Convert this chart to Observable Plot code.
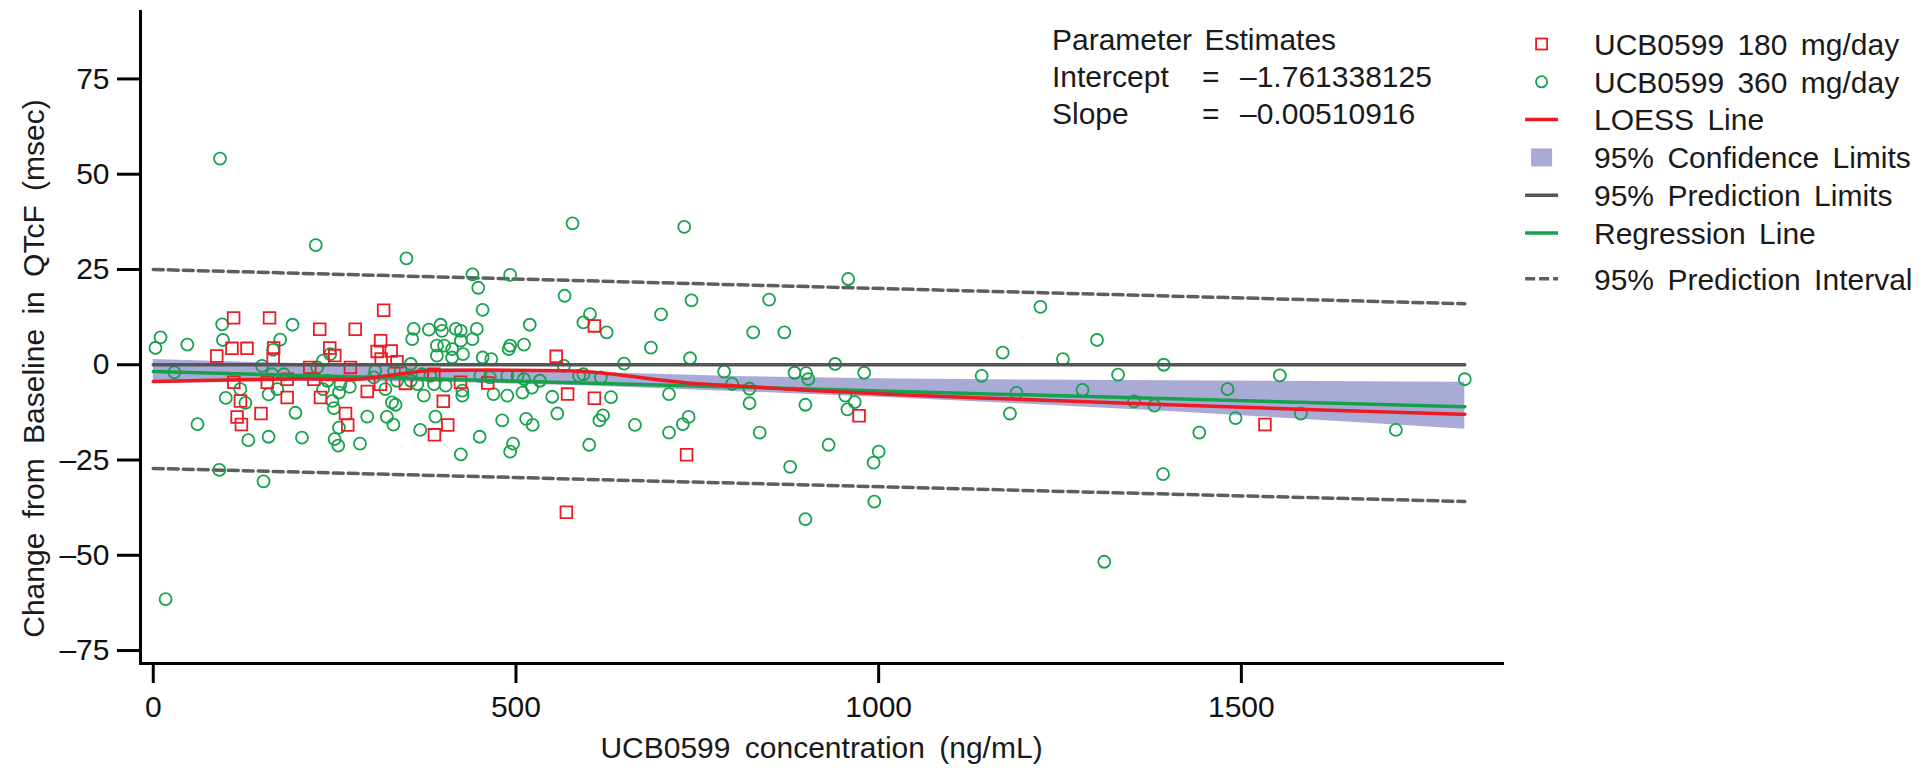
<!DOCTYPE html>
<html>
<head>
<meta charset="utf-8">
<script src="https://cdn.jsdelivr.net/npm/d3@7"></script>
<script src="https://cdn.jsdelivr.net/npm/@observablehq/plot@0.6"></script>
<style>
  html, body { margin: 0; padding: 0; background: #fff; }
  #wrap { position: relative; width: 1923px; height: 768px; overflow: hidden;
          font-family: "Liberation Sans", Arial, sans-serif; color: #1a1a1a; }
  #chart { position: absolute; left: 0; top: 0; }
  #params { position: absolute; left: 1052px; top: 21px; font-size: 30px; line-height: 37px; word-spacing: 4px; }
  #params .row { display: flex; white-space: nowrap; }
  #params .k { width: 150px; }
  #params .eq { width: 38px; }
  #legend { position: absolute; left: 1510px; top: 0; }
</style>
</head>
<body>
<div id="wrap">
  <div id="chart"></div>
  <div id="params"></div>
  <svg id="legend" width="413" height="320"></svg>
</div>
<script>
// ---------------- data ----------------
const dose180Conc = [87.5,108.5,110.8,129.2,160.3,166,165.3,229.5,278.4,317.6,313.5,308.7,328,314.2,336,243.3,250.2,271.8,215.7,111,157.2,184.6,221.3,184.6,120.2,230.5,265,115.6,148.5,121.5,268.1,295,313.2,386.7,347.7,423.5,461.1,399.8,571.2,608.1,608.1,555.5,406,387.6,569.5,735.2,973,1532.5];
const dose180Change = [2.3,4.3,12.3,4.3,12.3,4.4,1.5,9.3,9.3,14.3,6.3,3.5,3.6,1.5,0.8,4.4,2.4,-0.7,-0.7,-4.6,-4.6,-3.8,-3.8,-8.6,-9.5,-8.6,-12.8,-13.7,-12.8,-15.7,-15.8,-7.0,-5.1,-2.5,-4.9,-4.6,-4.8,-9.6,-7.7,-8.8,10.2,2.2,-15.8,-18.4,-38.7,-23.6,-13.4,-15.7];

const dose360Conc = [92,224,349,578,732,440,492,448,567,742,454,602,700,593,625,519,192,95,10,47,3,96,175,165,686,740,649,566,29,466,454,958,849,827,870,1223,1301,1171,1254,1393,940,787,884,900,903,980,1142,1330,1553,1808,798,822,711,1190,1281,1481,1352,1380,1181,1492,1582,1442,1713,1392,1311,822,899,954,967,957,738,730,711,836,931,1000,993,878,994,899,664,359,357,380,396,398,417,424,446,440,424,391,401,412,391,412,427,492,511,490,593,355,382,355,364,373,387,403,426,426,469,488,509,522,511,502,488,550,631,587,620,615,557,514,481,389,329,331,368,424,450,523,496,492,601,150,234,244,120,100,127,159,171,196,234,247,256,271,249,295,320,322,306,332,61,164,226,131,159,205,250,255,256,285,91,152,17,341,371,451,464,533,617,240,258,304,336,180,334];
const dose360Change = [54.1,31.4,27.9,37.1,36.2,23.7,23.6,20.2,18.1,16.9,14.4,13.3,13.2,11.1,8.5,10.5,10.5,10.6,7.2,5.3,4.4,6.5,6.6,3.9,4.5,1.7,0.3,-0.3,-2.0,1.5,1.9,22.5,17.1,8.5,8.5,15.2,6.5,3.2,1.5,0.0,0.2,-1.8,-2.1,-2.2,-3.8,-2.1,-2.9,-2.6,-2.8,-3.8,-5.0,-6.3,-7.7,-7.4,-6.6,-6.4,-9.6,-10.7,-12.8,-14.0,-12.8,-17.8,-17.1,-28.7,-51.7,-10.1,-10.5,-8.1,-9.8,-11.7,-13.7,-15.6,-17.8,-17.8,-21.0,-22.8,-25.7,-26.8,-35.9,-40.5,-15.8,9.4,6.7,9.2,10.5,8.9,9.4,8.9,9.4,6.7,6.3,5.0,5.0,4.1,2.4,1.9,2.8,5.0,5.3,4.1,-2.5,0.2,-2.9,-4.2,-5.1,-8.1,-5.1,-5.5,-6.8,-8.1,-7.7,-8.1,-7.3,-6.0,-3.8,-2.9,-2.9,-8.4,-8.5,-2.9,-13.3,-14.6,-12.8,-14.2,-14.6,-13.6,-9.9,-15.7,-17.1,-23.5,-18.9,-15.8,-20.7,-22.8,-21.0,-0.3,1.1,2.8,-6.4,-8.7,-10.0,-7.8,-6.4,-12.6,-6.4,-9.5,-7.3,-5.8,-11.4,-13.6,-6.4,-13.7,-1.6,-1.6,-15.6,-2.5,-0.7,-19.8,-18.9,-19.1,-19.5,-21.2,-16.5,-20.7,-27.6,-30.6,-61.5,-1.6,-2.5,-2.9,-3.3,-4.2,-3.3,-4.2,-5.1,-3.3,-4.2,-2.5,-10.5];

const loessConc = [0,100,200,270,330,380,460,570,625,690,750,800,900,1030,1200,1400,1600,1808];
const loessChange = [-4.4,-4.0,-3.7,-3.9,-2.7,-1.6,-1.4,-1.6,-2.3,-3.8,-5.0,-5.5,-6.7,-7.9,-9.1,-10.5,-11.8,-13.0];

const bandConc = [0,200,400,600,800,1000,1200,1400,1600,1808];
const bandLower = [-4.9,-4.4,-4.6,-5.6,-7.0,-8.5,-10.3,-12.3,-14.5,-16.9];
const bandUpper = [1.4,0.3,-1.0,-2.0,-3.1,-3.7,-4.0,-4.2,-4.4,-4.6];

const regConc = [0,1808];
const regChange = [-1.76,-11.0];

const piConc = [0,1808];
const piUpper = [25.0,16.0];
const piLower = [-27.2,-35.9];

const refConc = [0,1808];
const refChange = [0,0];

const xTicks = [0,500,1000,1500];
const yTicks = [-75,-50,-25,0,25,50,75];

const xTitle = "UCB0599 concentration (ng/mL)";
const yTitle = "Change from Baseline in QTcF (msec)";

const paramTitle = "Parameter Estimates";
const paramNames = ["Intercept","Slope"];
const paramValues = ["–1.761338125","–0.00510916"];

const legendLabels = ["UCB0599 180 mg/day","UCB0599 360 mg/day","LOESS Line","95% Confidence Limits","95% Prediction Limits","Regression Line","95% Prediction Interval"];

// ---------------- styling ----------------
const RED = "#ec1c24";
const GREEN = "#16a24c";
const BAND = "#aaaad6";
const GREY = "#555555";
const DASH = "#5e5e5e";
const FONT = "'Liberation Sans', Arial, sans-serif";

const pts = (xs, ys) => xs.map((x, i) => ({x, y: ys[i]}));
const fmt = d => d < 0 ? "–" + Math.abs(d) : String(d);

const plot = Plot.plot({
  width: 1520,
  height: 768,
  marginTop: 11,
  marginBottom: 105,
  marginLeft: 140,
  marginRight: 18,
  style: {fontFamily: FONT, fontSize: "30px", color: "#111", background: "white", overflow: "visible"},
  x: {domain: [-17.6, 1860], label: null},
  y: {domain: [-78.4, 92.7], label: null},
  marks: [
    Plot.areaY(bandConc.map((x, i) => ({x, lo: bandLower[i], hi: bandUpper[i]})),
      {x: "x", y1: "lo", y2: "hi", fill: BAND}),
    Plot.line(pts(piConc, piUpper), {x: "x", y: "y", stroke: DASH, strokeWidth: 3.5, strokeDasharray: "10,5"}),
    Plot.line(pts(piConc, piLower), {x: "x", y: "y", stroke: DASH, strokeWidth: 3.5, strokeDasharray: "10,5"}),
    Plot.dot(pts(dose360Conc, dose360Change), {x: "x", y: "y", r: 6, stroke: GREEN, strokeWidth: 1.8, fill: "none"}),
    Plot.dot(pts(dose180Conc, dose180Change), {x: "x", y: "y", symbol: "square", r: 6.6, stroke: RED, strokeWidth: 1.8, fill: "none"}),
    Plot.line(pts(refConc, refChange), {x: "x", y: "y", stroke: GREY, strokeWidth: 3.5}),
    Plot.line(pts(regConc, regChange), {x: "x", y: "y", stroke: GREEN, strokeWidth: 3.5}),
    Plot.line(pts(loessConc, loessChange), {x: "x", y: "y", stroke: RED, strokeWidth: 3.5, curve: "monotone-x"}),
    Plot.axisX(xTicks, {anchor: "bottom", tickSize: 20, tickPadding: 12, strokeWidth: 3, stroke: "#000", fontSize: 30, fill: "#111", tickFormat: fmt, label: null}),
    Plot.axisY(yTicks, {anchor: "left", tickSize: 23, tickPadding: 8, strokeWidth: 3, stroke: "#000", fontSize: 30, fill: "#111", tickFormat: fmt, label: null}),
    Plot.frame({anchor: "left", stroke: "#000", strokeWidth: 3}),
    Plot.frame({anchor: "bottom", stroke: "#000", strokeWidth: 3}),
    Plot.text([xTitle], {frameAnchor: "bottom", textAnchor: "middle", lineAnchor: "middle", dy: 85, fontSize: 30, fill: "#1a1a1a", text: d => d}),
    Plot.text([yTitle], {frameAnchor: "left", textAnchor: "middle", lineAnchor: "middle", rotate: -90, dx: -106, dy: 31, fontSize: 30, fill: "#1a1a1a", text: d => d})
  ]
});
plot.querySelectorAll("text").forEach(t => t.style.wordSpacing = "6px");
document.getElementById("chart").appendChild(plot);

// ---------------- parameter estimates block ----------------
const params = d3.select("#params");
params.append("div").attr("class", "row").text(paramTitle);
paramNames.forEach((n, i) => {
  const r = params.append("div").attr("class", "row");
  r.append("span").attr("class", "k").text(n);
  r.append("span").attr("class", "eq").text("=");
  r.append("span").text(paramValues[i]);
});

// ---------------- legend ----------------
const lg = d3.select("#legend");
const symX = 31.6, txtX = 84;
const rowY = i => 44 + i * 37.8 + (i === 6 ? 8 : 0);
legendLabels.forEach((lab, i) => {
  const y = rowY(i);
  const g = lg.append("g");
  if (i === 0) g.append("rect").attr("x", symX - 5.5).attr("y", y - 5.5).attr("width", 11).attr("height", 11).attr("fill", "none").attr("stroke", RED).attr("stroke-width", 1.8);
  if (i === 1) g.append("circle").attr("cx", symX).attr("cy", y).attr("r", 5.6).attr("fill", "none").attr("stroke", GREEN).attr("stroke-width", 1.8);
  if (i === 2) g.append("line").attr("x1", symX - 16.5).attr("x2", symX + 16.5).attr("y1", y).attr("y2", y).attr("stroke", RED).attr("stroke-width", 3.5);
  if (i === 3) g.append("rect").attr("x", symX - 10.5).attr("y", y - 9).attr("width", 21).attr("height", 18).attr("fill", BAND);
  if (i === 4) g.append("line").attr("x1", symX - 16.5).attr("x2", symX + 16.5).attr("y1", y).attr("y2", y).attr("stroke", GREY).attr("stroke-width", 3.5);
  if (i === 5) g.append("line").attr("x1", symX - 16.5).attr("x2", symX + 16.5).attr("y1", y).attr("y2", y).attr("stroke", GREEN).attr("stroke-width", 3.5);
  if (i === 6) g.append("line").attr("x1", symX - 16.5).attr("x2", symX + 16.5).attr("y1", y).attr("y2", y).attr("stroke", DASH).attr("stroke-width", 3.5).attr("stroke-dasharray", "10,4");
  g.append("text").attr("x", txtX).attr("y", y).attr("dy", "0.36em")
    .attr("font-family", FONT).attr("font-size", 30).attr("fill", "#1a1a1a")
    .style("word-spacing", "5px").text(lab);
});
</script>
</body>
</html>
